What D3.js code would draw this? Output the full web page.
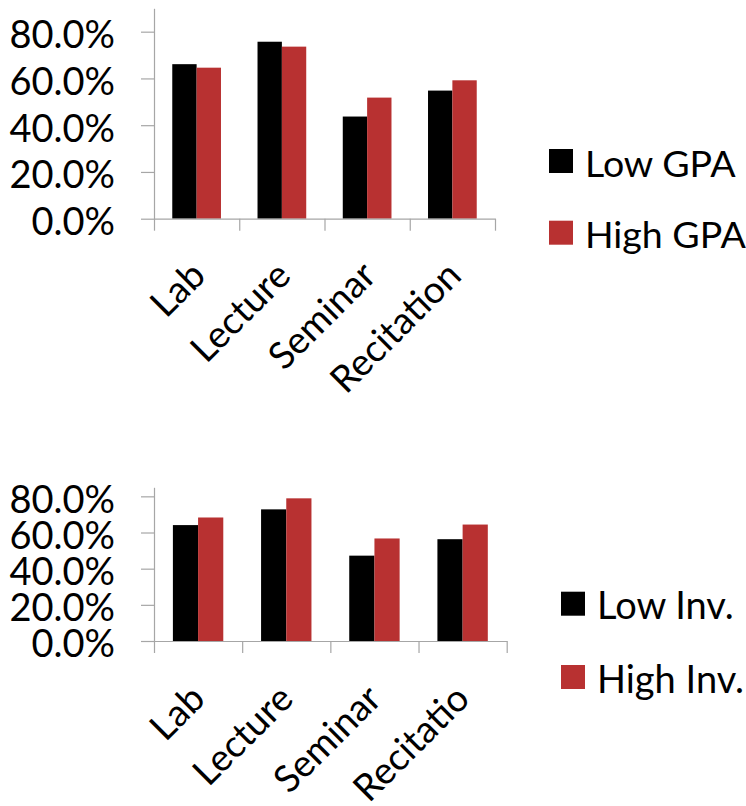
<!DOCTYPE html>
<html>
<head>
<meta charset="utf-8">
<script src="https://cdn.jsdelivr.net/npm/d3@7/dist/d3.min.js"></script>
<style>
  html, body { margin: 0; padding: 0; background: #ffffff; }
  svg { display: block; }
  text { font-family: Lato, "Open Sans", sans-serif; fill: #000; }
</style>
</head>
<body>
<script>
// Share of students by course format, split by GPA and by involvement
const categories = ["Lab", "Lecture", "Seminar", "Recitation"];
const categoriesShort = ["Lab", "Lecture", "Seminar", "Recitatio"];
const lowGPA  = [0.661, 0.757, 0.437, 0.548];
const highGPA = [0.646, 0.736, 0.518, 0.592];
const lowInv  = [0.641, 0.728, 0.472, 0.563];
const highInv = [0.683, 0.789, 0.567, 0.644];
const yTicks = [0, 0.2, 0.4, 0.6, 0.8];
const gpaLegend = ["Low GPA", "High GPA"];
const invLegend = ["Low Inv.", "High Inv."];
const seriesColors = ["#000000", "#b83131"];

const W = 746, H = 806;
const svg = d3.select("body").append("svg").attr("width", W).attr("height", H);

function drawChart(cfg) {
  const g = svg.append("g");
  const x = d3.scaleBand().domain(cfg.labels).range([cfg.left, cfg.right])
    .paddingInner(0).paddingOuter(0);
  const y = d3.scaleLinear().domain([0, cfg.yMax]).range([cfg.bottom, cfg.top]);
  const inner = d3.scaleBand().domain([0, 1]).range([0, x.bandwidth()])
    .paddingInner(0).paddingOuter(0.75);

  // bars
  const series = [cfg.a, cfg.b];
  series.forEach((vals, si) => {
    g.append("g").selectAll("rect").data(vals).join("rect")
      .attr("x", (d, i) => x(cfg.labels[i]) + inner(si))
      .attr("y", d => y(d))
      .attr("width", inner.bandwidth())
      .attr("height", d => y(0) - y(d))
      .attr("fill", seriesColors[si]);
  });

  // value axis
  const yAxis = d3.axisLeft(y).tickValues(yTicks).tickSize(13).tickSizeOuter(0)
    .tickPadding(26).tickFormat(d3.format(".1%"));
  const ya = g.append("g").attr("transform", `translate(${cfg.left},0)`).call(yAxis);
  ya.select(".domain").attr("stroke", "#a6a6a6").attr("stroke-width", 1.2);
  ya.selectAll(".tick line").attr("stroke", "#a6a6a6").attr("stroke-width", 1.2);
  ya.selectAll(".tick text")
    .style("font-family", "Lato, 'Open Sans', sans-serif")
    .style("font-size", cfg.yFont + "px")
    .attr("dy", "0.42em");

  // category axis with ticks on band boundaries
  const edges = d3.scaleLinear().domain([0, cfg.labels.length]).range([cfg.left, cfg.right]);
  const xAxis = d3.axisBottom(edges).tickValues(d3.range(cfg.labels.length + 1))
    .tickSize(12).tickSizeOuter(0).tickFormat("");
  const xa = g.append("g").attr("transform", `translate(0,${cfg.bottom})`).call(xAxis);
  xa.select(".domain").attr("stroke", "#a6a6a6").attr("stroke-width", 1.2);
  xa.selectAll(".tick line").attr("stroke", "#a6a6a6").attr("stroke-width", 1.2);

  // rotated category labels
  g.append("g").selectAll("text").data(cfg.labels).join("text")
    .attr("transform", d => `translate(${x(d) + x.bandwidth() / 2 + cfg.lx},${cfg.bottom + cfg.ly}) rotate(-45)`)
    .attr("text-anchor", "end")
    .style("font-size", cfg.xFont + "px")
    .text(d => d);

  // legend
  const lg = g.append("g");
  cfg.legend.forEach((name, i) => {
    const row = lg.append("g").attr("transform", `translate(${cfg.legX},${cfg.legY + i * cfg.legGap})`);
    row.append("rect").attr("x", 0).attr("y", 0).attr("width", 24).attr("height", 24)
      .attr("fill", seriesColors[i]);
    row.append("text").attr("x", 36).attr("y", 24 + 3.5)
      .style("font-size", cfg.legFont + "px").text(name);
  });
}

drawChart({
  labels: categories, a: lowGPA, b: highGPA, yMax: 0.9,
  left: 154, right: 495, top: 8.3, bottom: 218.7,
  yFont: 38, xFont: 37.5, lx: 11, ly: 59,
  legend: gpaLegend, legX: 549, legY: 149, legGap: 71.7, legFont: 37.5
});

drawChart({
  labels: categoriesShort, a: lowInv, b: highInv, yMax: 0.85,
  left: 154, right: 506.7, top: 487.3, bottom: 641,
  yFont: 38, xFont: 37.5, lx: 9, ly: 60,
  legend: invLegend, legX: 561, legY: 591.7, legGap: 73.3, legFont: 38
});
</script>
</body>
</html>
